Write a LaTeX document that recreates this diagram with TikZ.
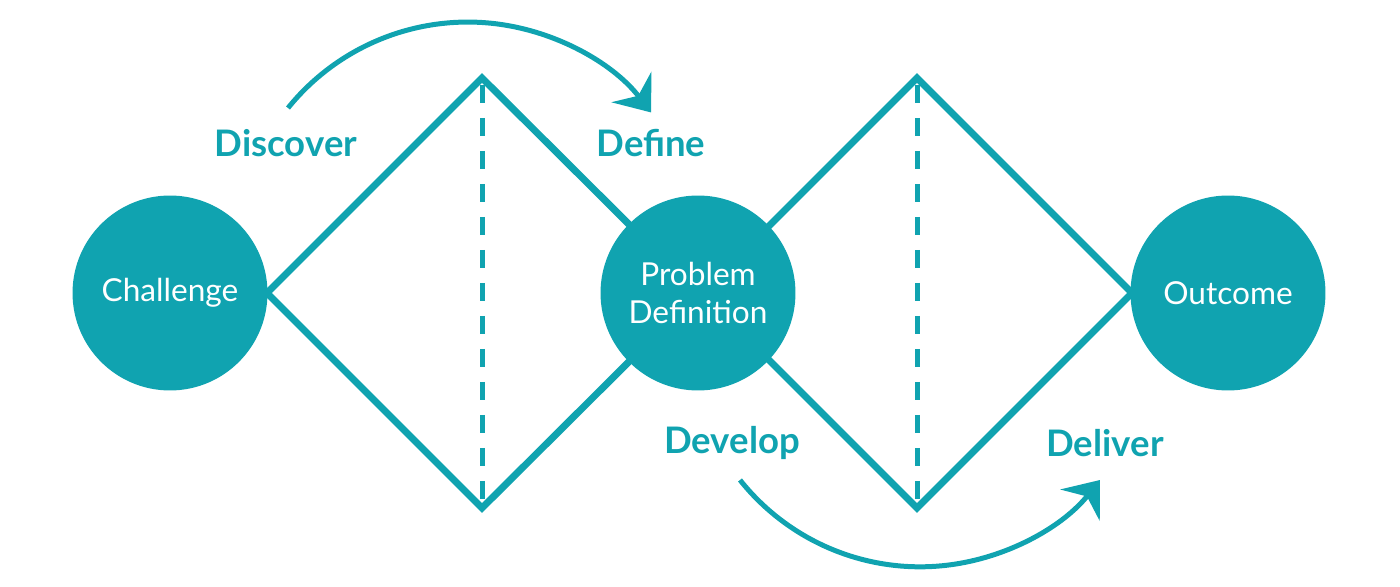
\documentclass[tikz,border=0pt]{standalone}
\usepackage{fontspec}
\setmainfont{Lato}
\usetikzlibrary{arrows.meta}
\definecolor{teal1}{HTML}{10A3B0}
\begin{document}
\begin{tikzpicture}[x=0.02cm,y=-0.02cm,
  diam/.style={draw=teal1,line width=0.14cm,line join=miter},
  midline/.style={draw=teal1,line width=0.1cm,dash pattern=on 0.36cm off 0.3cm},
  circ/.style={circle,fill=teal1,draw=none,minimum size=3.9cm,inner sep=0pt,text=white,
    align=center,font=\fontsize{18}{21.5}\selectfont},
  lab/.style={text=teal1,font=\fontsize{20.8}{26}\selectfont\bfseries},
  flow/.style={draw=teal1,line width=0.1cm,-{Stealth[length=0.64cm,width=1.0cm,inset=0.22cm]}}]
\useasboundingbox (0,0) rectangle (1400,587);
% coordinates
\coordinate (chc) at (170,293);
\coordinate (pdc) at (698,293);
\coordinate (ouc) at (1228,293);
\coordinate (l1) at (267,293);
\coordinate (t1) at (482,78);
\coordinate (b1) at (482,508);
\coordinate (t2) at (917,78);
\coordinate (b2) at (917,508);
\coordinate (r2) at (1132,293);
\coordinate (l2) at (702,293);
\coordinate (d1s) at (482,85);
\coordinate (d1e) at (482,502);
\coordinate (d2s) at (917,85);
\coordinate (d2e) at (917,502);
% diamonds
\draw[diam] (l1) -- (t1) -- (pdc) -- (b1) -- cycle;
\draw[diam] (l2) -- (t2) -- (r2) -- (b2) -- cycle;
\draw[midline] (d1s) -- (d1e);
\draw[midline] (d2s) -- (d2e);
% circles
\node[circ] (ch) at (chc) {Challenge};
\node[circ] (pd) at (pdc) {Problem\\Definition};
\node[circ] (ou) at (ouc) {Outcome};
% labels
\node[lab] (disc) at (286,143) {Discover};
\node[lab] (defi) at (651,143) {Define};
\node[lab] (deve) at (732,443) {Develop};
\node[lab] (deli) at (1105,443) {Deliver};
% arrows
\coordinate (a1s) at (288,108);
\coordinate (a2s) at (740,480);
\draw[flow] (a1s) arc[start angle=-141.1,end angle=-37.5,radius=231];
\draw[flow] (a2s) arc[start angle=141.5,end angle=38.5,radius=230];
\end{tikzpicture}
\end{document}
